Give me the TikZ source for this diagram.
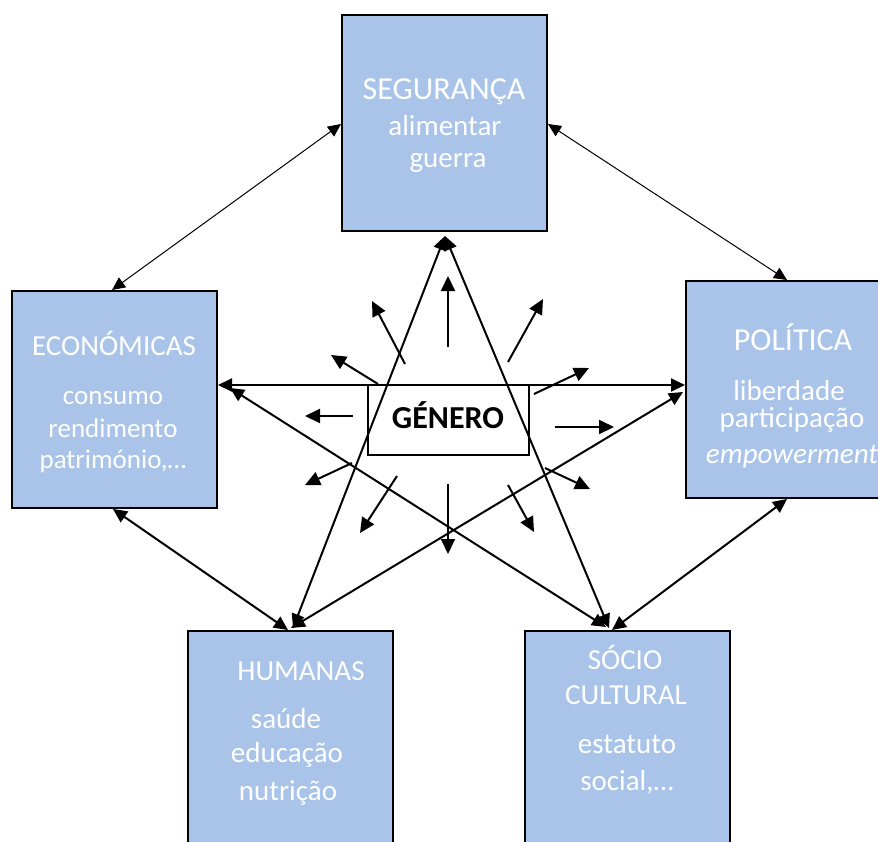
\documentclass[tikz,border=0pt]{standalone}
\usepackage{fontspec}
\setmainfont{Carlito}
\usetikzlibrary{arrows.meta,calc}
\definecolor{boxblue}{RGB}{169,196,232}
\tikzset{
  dimbox/.style={draw=black,line width=2pt,fill=boxblue,inner sep=0pt},
  lbl/.style={text=white,anchor=base,inner sep=0pt,font=\fontsize{29}{32}\selectfont},
  biglbl/.style={lbl,font=\fontsize{32}{36}\selectfont},
  smalllbl/.style={lbl,font=\fontsize{27}{32}\selectfont},
  thinlink/.style={line width=1pt,{Triangle[length=13pt,width=12pt]}-{Triangle[length=13pt,width=12pt]}},
  link/.style={line width=2pt,{Triangle[length=14pt,width=13pt]}-{Triangle[length=14pt,width=13pt]}},
  ray/.style={line width=2pt,-{Triangle[length=15pt,width=14pt]}},
}
\begin{document}
\begin{tikzpicture}[x=1pt,y=-1pt]
\clip (0,0) rectangle (878,841);
\fill[white] (0,0) rectangle (878,841);
% boxes
\node[dimbox,minimum width=205pt,minimum height=216pt] (seg) at (444.5,123) {};
\node[dimbox,minimum width=205pt,minimum height=217pt] (econ) at (114.5,399.5) {};
\node[dimbox,minimum width=205pt,minimum height=217pt] (pol) at (788.5,389.5) {};
\node[dimbox,minimum width=205pt,minimum height=230pt] (hum) at (290.5,746) {};
\node[dimbox,minimum width=205pt,minimum height=230pt] (soc) at (627.5,746) {};
% texts
\node[biglbl] (t1) at (444,99) {SEGURANÇA};
\node[lbl] (t2) at (445,135) {alimentar};
\node[lbl] (t3) at (448,167) {guerra};
\node[lbl] (t4) at (114,355) {ECONÓMICAS};
\node[smalllbl] (t5) at (113,404) {consumo};
\node[smalllbl] (t6) at (113,437) {rendimento};
\node[smalllbl] (t7) at (113,468) {património,…};
\node[biglbl] (t8) at (793,350) {POLÍTICA};
\node[lbl] (t9) at (789,400) {liberdade};
\node[lbl] (t10) at (792,427) {participação};
\node[lbl] (t11) at (792,463) {\itshape empowerment};
\node[lbl] (t12) at (301,680) {HUMANAS};
\node[lbl] (t13) at (286,728) {saúde};
\node[lbl] (t14) at (287,762) {educação};
\node[lbl] (t15) at (288,800) {nutrição};
\node[lbl] (t16) at (625,669) {SÓCIO};
\node[lbl] (t17) at (626,704) {CULTURAL};
\node[lbl] (t18) at (627,753) {estatuto};
\node[lbl] (t19) at (627,790) {social,…};
% genero
\node[draw=black,line width=1.5pt,minimum width=161pt,minimum height=70pt,inner sep=0pt] (gen) at (448.5,420) {};
\node[anchor=base,inner sep=0pt,font=\fontsize{32}{36}\selectfont\bfseries] (gt) at (448,428) {GÉNERO};
% outer links
\draw[thinlink] (seg.west |- 0,124) -- (econ.north west -| 112,0);
\draw[thinlink] (seg.east |- 0,124) -- (pol.north west -| 787,0);
\draw[link] (econ.south west -| 113,0) -- (hum.north west -| 288,0);
\draw[link] (pol.south west -| 787,0) -- (soc.north west -| 612,0);
% star links
\draw[link] (econ.east |- 0,385) -- (pol.west |- 0,385);
\draw[link] ($(econ.east |- 0,388)+(12,0)$) -- ($(soc.north west -| 606,0)+(0,-3)$);
\draw[link] ($(pol.west |- 0,392)+(-2,0)$) -- ($(hum.north west -| 291,0)+(0,-2)$);
\draw[link] ($(seg.south -| 445,0)+(0,4)$) -- ($(hum.north west -| 293,0)+(0,-2)$);
\draw[link] ($(seg.south -| 445,0)+(0,4)$) -- ($(soc.north west -| 609,0)+(0,-2)$);
% rays
\coordinate (r0) at (448,347); \coordinate (e0) at (448,276);
\coordinate (r1) at (405,364); \coordinate (e1) at (372,301);
\coordinate (r2) at (508,362); \coordinate (e2) at (543,299);
\coordinate (r3) at (378,384); \coordinate (e3) at (331,355);
\coordinate (r4) at (534,394); \coordinate (e4) at (589,368);
\coordinate (r5) at (353,416); \coordinate (e5) at (305,416);
\coordinate (r6) at (555,427); \coordinate (e6) at (614,427);
\coordinate (r7) at (352,463); \coordinate (e7) at (305,485);
\coordinate (r8) at (545,468); \coordinate (e8) at (590,489);
\coordinate (r9) at (397,476); \coordinate (e9) at (360,533);
\coordinate (r10) at (448,484); \coordinate (e10) at (448,554);
\coordinate (r11) at (508,485); \coordinate (e11) at (534,532);
\foreach \i in {0,...,11} { \draw[ray] (r\i) -- (e\i); }
\end{tikzpicture}
\end{document}
